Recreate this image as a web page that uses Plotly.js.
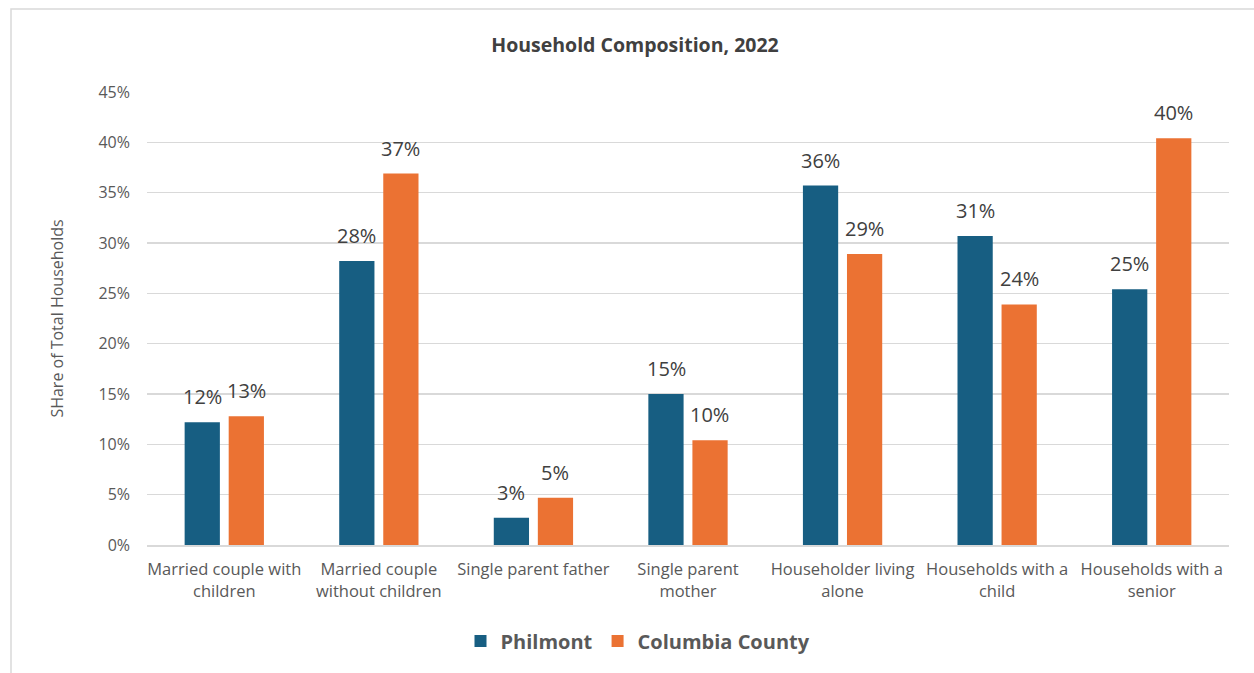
<!DOCTYPE html>
<html>
<head>
<meta charset="utf-8">
<script src="https://cdn.plot.ly/plotly-3.0.1.min.js"></script>
<style>
html,body{margin:0;padding:0;background:#fff;}
#chart{width:1254px;height:673px;}
</style>
</head>
<body>
<div id="chart"></div>
<script>
const categories = [
  "Married couple with<br>children",
  "Married couple<br>without children",
  "Single parent father",
  "Single parent<br>mother",
  "Householder living<br>alone",
  "Households with a<br>child",
  "Households with a<br>senior"
];
const philmont = [12.2, 28.2, 2.7, 15.0, 35.7, 30.7, 25.4];
const columbia = [12.8, 36.9, 4.7, 10.4, 28.9, 23.9, 40.4];
const seriesNames = ["Philmont", "Columbia County"];
const yTicks = [0, 5, 10, 15, 20, 25, 30, 35, 40, 45];

const FONT = "'Open Sans', 'DejaVu Sans', sans-serif";
const labelFont = {family: FONT, size: 20, color: "#404040"};

const traces = [
  {
    type: "bar", name: seriesNames[0], x: categories, y: philmont,
    marker: {color: "#175E82"}, hoverinfo: "skip"
  },
  {
    type: "bar", name: seriesNames[1], x: categories, y: columbia,
    marker: {color: "#EB7233"}, hoverinfo: "skip"
  }
];

// data labels placed from the data values, shifted over each bar of the group
const annotations = [];
const seriesVals = [philmont, columbia];
const offsets = [-0.142, 0.142];
seriesVals.forEach((vals, s) => {
  vals.forEach((v, i) => {
    annotations.push({
      xref: "x", yref: "y", x: i + offsets[s], y: v,
      text: Math.round(v) + "%", showarrow: false,
      xanchor: "center", yanchor: "bottom", yshift: 10,
      font: labelFont
    });
  });
});

const layout = {
  width: 1254, height: 673,
  margin: {l: 147, r: 25, t: 92, b: 128, autoexpand: false},
  paper_bgcolor: "#fff", plot_bgcolor: "#fff",
  font: {family: FONT, color: "#595959"},
  title: {
    text: "<b>Household Composition, 2022</b>",
    font: {family: FONT, size: 19.5, color: "#404040"},
    x: (635 - 147) / 1082, xanchor: "center", xref: "paper",
    y: 1 - 45/673, yanchor: "middle", yref: "container"
  },
  barmode: "group",
  bargap: 0.43,
  bargroupgap: 0.2,
  showlegend: true,
  legend: {
    orientation: "h", x: (638 - 147) / 1082, xanchor: "center",
    y: -(641 - 545) / 453, yanchor: "middle",
    font: {family: FONT, size: 20, color: "#595959", weight: "bold"},
    traceorder: "normal"
  },
  xaxis: {
    type: "category",
    tickfont: {family: FONT, size: 16.5, color: "#595959"},
    tickangle: 0,
    showgrid: false, zeroline: false,
    showline: true, linecolor: "#d9d9d9", linewidth: 1.5,
    ticks: "", ticklabelstandoff: 9
  },
  yaxis: {
    range: [0, 45],
    tickvals: yTicks,
    ticktext: yTicks.map(v => v + "%"),
    tickfont: {family: FONT, size: 16, color: "#595959"},
    showgrid: true, gridcolor: "#d9d9d9", gridwidth: 1.5,
    zeroline: false, showline: false, ticks: "",
    ticklabelstandoff: 16,
    title: {text: "SHare of Total Households", font: {family: FONT, size: 16, color: "#595959"}, standoff: 30}
  },
  annotations: annotations,
  shapes: [{
    type: "rect", xref: "paper", yref: "paper",
    x0: (11 - 147) / 1082, x1: (1262 - 147) / 1082,
    y0: -(690 - 545) / 453, y1: 1 + (92 - 9) / 453,
    line: {color: "#d9d9d9", width: 1.5}, fillcolor: "rgba(0,0,0,0)", layer: "below"
  }]
};

Plotly.newPlot("chart", traces, layout, {displayModeBar: false, staticPlot: true});
</script>
</body>
</html>
